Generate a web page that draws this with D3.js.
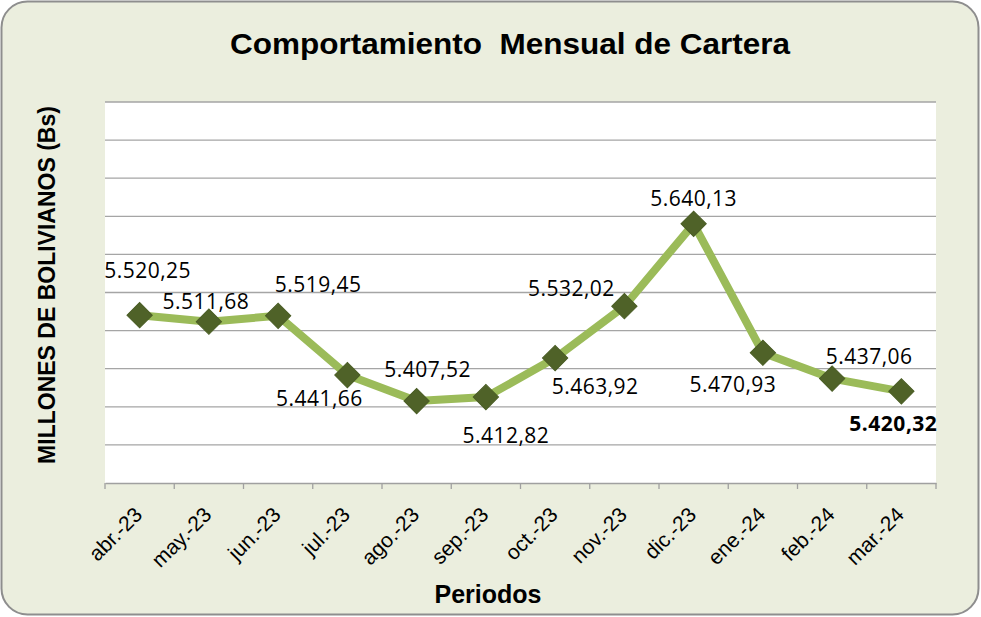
<!DOCTYPE html>
<html>
<head>
<meta charset="utf-8">
<script src="https://cdn.jsdelivr.net/npm/d3@7"></script>
<style>
  body { margin: 0; background: #fff; }
  svg { display: block; }
</style>
</head>
<body>
<svg id="chart"></svg>
<script>
// chart data
const months = ["abr.-23", "may.-23", "jun.-23", "jul.-23", "ago.-23", "sep.-23",
  "oct.-23", "nov.-23", "dic.-23", "ene.-24", "feb.-24", "mar.-24"];
const cartera = [5520.25, 5511.68, 5519.45, 5441.66, 5407.52, 5412.82,
  5463.92, 5532.02, 5640.13, 5470.93, 5437.06, 5420.32];
const yTicks = [5300, 5350, 5400, 5450, 5500, 5550, 5600, 5650, 5700, 5750, 5800];

// where each value label sits relative to its marker
const labelOffset = [[8, -43], [-3, -18], [40, -29], [-28, 25], [11, -30], [20, 40],
  [40, 30], [-53, -16], [0, -23], [-30, 34], [37, -20], [-8, 34]];

const width = 981, height = 617;
const margin = { top: 102, right: 45, bottom: 134, left: 105 };

const svg = d3.select("#chart").attr("width", width).attr("height", height);

// outer rounded frame
svg.append("rect")
  .attr("x", 1.5).attr("y", 1.5)
  .attr("width", width - 4).attr("height", height - 4)
  .attr("rx", 26)
  .attr("fill", "#ebeede")
  .attr("stroke", "#8e8e8e")
  .attr("stroke-width", 2);

let x = d3.scaleBand()
  .domain(months)
  .range([margin.left, width - margin.right]);

let y = d3.scaleLinear()
  .domain([5300, 5800])
  .range([height - margin.bottom, margin.top]);

// plot area
svg.append("rect")
  .attr("x", margin.left).attr("y", margin.top)
  .attr("width", width - margin.left - margin.right)
  .attr("height", height - margin.top - margin.bottom)
  .attr("fill", "#fff");

// gridlines
svg.append("g")
  .selectAll("line")
  .data(yTicks.slice(1))
  .join("line")
  .attr("x1", margin.left).attr("x2", width - margin.right)
  .attr("y1", d => y(d)).attr("y2", d => y(d))
  .attr("stroke", "#a5a5a5")
  .attr("stroke-width", 1.3);

// x axis
let xAxis = svg.append("g")
  .attr("transform", `translate(0,${height - margin.bottom})`)
  .call(d3.axisBottom(x).tickSize(0).tickFormat(""));
xAxis.select(".domain").attr("stroke", "#a0a0a0").attr("stroke-width", 1.3);

// tick marks sit between categories
svg.append("g")
  .selectAll("line")
  .data(d3.range(months.length + 1))
  .join("line")
  .attr("x1", i => margin.left + i * x.step())
  .attr("x2", i => margin.left + i * x.step())
  .attr("y1", height - margin.bottom)
  .attr("y2", height - margin.bottom + 6)
  .attr("stroke", "#a0a0a0")
  .attr("stroke-width", 1.3);

svg.append("g")
  .selectAll("text")
  .data(months)
  .join("text")
  .attr("transform", d => `translate(${x(d) + x.bandwidth() / 2 + 4},${height - margin.bottom + 33}) rotate(-45)`)
  .attr("text-anchor", "end")
  .style("font-family", "'Liberation Sans', Arial, sans-serif")
  .style("font-size", "21px")
  .attr("fill", "#000")
  .text(d => d);

// line + markers
const cx = i => x(months[i]) + x.bandwidth() / 2;

svg.append("path")
  .datum(cartera)
  .attr("d", d3.line().x((d, i) => cx(i)).y(d => y(d)))
  .attr("fill", "none")
  .attr("stroke", "#9bbb59")
  .attr("stroke-width", 8)
  .attr("stroke-linejoin", "round");

svg.append("g")
  .selectAll("path")
  .data(cartera)
  .join("path")
  .attr("d", d3.symbol(d3.symbolSquare, 320))
  .attr("transform", (d, i) => `translate(${cx(i)},${y(d)}) rotate(45)`)
  .attr("fill", "#4f6228")
  .attr("stroke", "#4a5d25")
  .attr("stroke-width", 1);

// value labels
const fmt = d3.formatLocale({ decimal: ",", thousands: ".", grouping: [3] }).format(",.2f");

svg.append("g")
  .selectAll("text")
  .data(cartera)
  .join("text")
  .attr("x", (d, i) => cx(i) + labelOffset[i][0])
  .attr("y", (d, i) => y(d) + labelOffset[i][1])
  .attr("text-anchor", "middle")
  .attr("dominant-baseline", "middle")
  .style("font-family", "'Open Sans', sans-serif")
  .style("font-size", "21px")
  .style("letter-spacing", "0.5px")
  .style("font-weight", (d, i) => i === cartera.length - 1 ? "bold" : "normal")
  .attr("fill", "#000")
  .text(d => fmt(d));

// titles
svg.append("text")
  .attr("x", 510).attr("y", 54)
  .attr("text-anchor", "middle")
  .attr("textLength", 560)
  .attr("lengthAdjust", "spacingAndGlyphs")
  .style("font-family", "'Liberation Sans', Arial, sans-serif")
  .style("font-size", "30px")
  .style("font-weight", "bold")
  .style("white-space", "pre")
  .text("Comportamiento  Mensual de Cartera");

svg.append("text")
  .attr("transform", `translate(55,${(103 + 467) / 2}) rotate(-90)`)
  .attr("text-anchor", "middle")
  .style("font-family", "'Liberation Sans', Arial, sans-serif")
  .style("font-size", "23px")
  .style("font-weight", "bold")
  .text("MILLONES DE BOLIVIANOS (Bs)");

svg.append("text")
  .attr("x", 488).attr("y", 603)
  .attr("text-anchor", "middle")
  .style("font-family", "'Liberation Sans', Arial, sans-serif")
  .style("font-size", "25px")
  .style("font-weight", "bold")
  .text("Periodos");
</script>
</body>
</html>
